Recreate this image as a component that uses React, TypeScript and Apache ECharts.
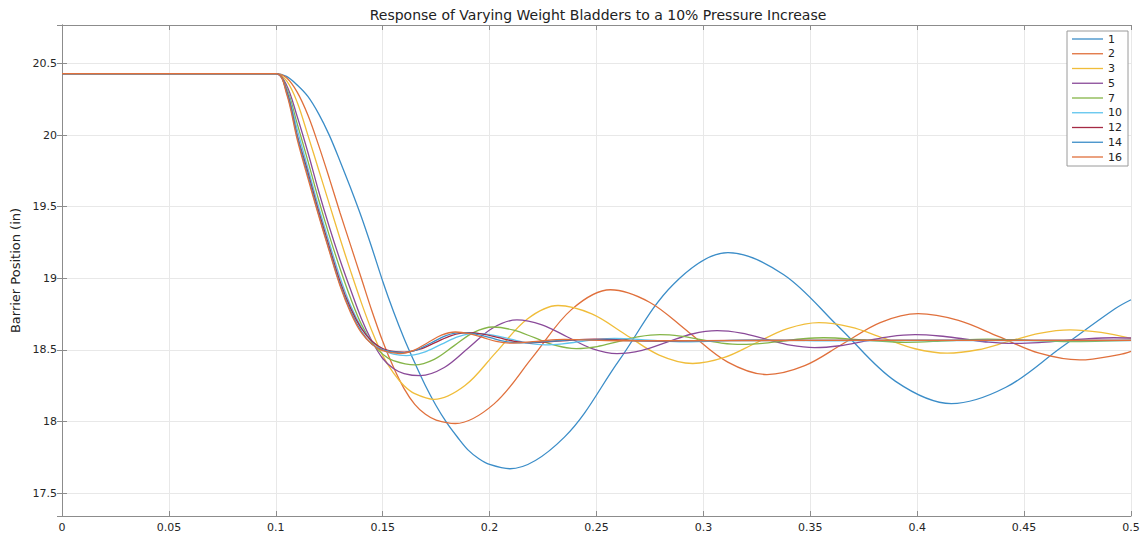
import React, { useEffect, useRef } from "react";
import * as echarts from "echarts";

const titleText = "Response of Varying Weight Bladders to a 10% Pressure Increase";
const yAxisName = "Barrier Position (in)";

const seriesNames = ["1", "2", "3", "5", "7", "10", "12", "14", "16"];
const seriesColors = [
  "#3b8dc8", "#e0703c", "#f0bd3a", "#8a4a99", "#85b548",
  "#5ec4ee", "#a52a44", "#3b8dc8", "#e0703c",
];

// [time (s), barrier position (in)]
const s1: [number, number][] = [
  [0, 20.43], [0.1, 20.43], [0.105, 20.41], [0.11, 20.35], [0.115, 20.27],
  [0.12, 20.15], [0.125, 20.0], [0.13, 19.82], [0.135, 19.63], [0.14, 19.43],
  [0.145, 19.21], [0.15, 18.98], [0.155, 18.77], [0.16, 18.58], [0.165, 18.41],
  [0.17, 18.25], [0.175, 18.11], [0.18, 17.99], [0.185, 17.89], [0.19, 17.8],
  [0.195, 17.74], [0.2, 17.7], [0.2095, 17.67], [0.235, 17.891], [0.2605, 18.425],
  [0.286, 18.959], [0.3115, 19.18], [0.3376, 19.025], [0.3638, 18.653], [0.3899, 18.28],
  [0.416, 18.125], [0.4415, 18.239], [0.467, 18.513], [0.4925, 18.787], [0.5, 18.85],
];
const s2: [number, number][] = [
  [0, 20.43], [0.1, 20.43], [0.105, 20.4], [0.11, 20.3], [0.115, 20.14],
  [0.12, 19.93], [0.125, 19.7], [0.13, 19.46], [0.135, 19.23], [0.14, 19.0],
  [0.145, 18.77], [0.15, 18.56], [0.155, 18.38], [0.16, 18.23], [0.165, 18.12],
  [0.17, 18.05], [0.175, 18.01], [0.184, 17.986], [0.2021, 18.123], [0.2203, 18.453],
  [0.2384, 18.783], [0.2565, 18.92], [0.2748, 18.833], [0.2931, 18.624], [0.3114, 18.415],
  [0.3297, 18.328], [0.3474, 18.39], [0.3651, 18.541], [0.3827, 18.691], [0.4004, 18.753],
  [0.4193, 18.706], [0.4382, 18.592], [0.4571, 18.477], [0.476, 18.43], [0.4945, 18.467],
  [0.5, 18.49],
];
const s3: [number, number][] = [
  [0, 20.43], [0.1, 20.43], [0.105, 20.38], [0.11, 20.23], [0.115, 20.0],
  [0.12, 19.76], [0.125, 19.52], [0.13, 19.28], [0.135, 19.05], [0.14, 18.83],
  [0.145, 18.63], [0.15, 18.46], [0.155, 18.34], [0.16, 18.25], [0.165, 18.195],
  [0.174, 18.155], [0.1885, 18.251], [0.203, 18.483], [0.2175, 18.714], [0.232, 18.81],
  [0.2478, 18.751], [0.2635, 18.608], [0.2793, 18.464], [0.295, 18.405], [0.3098, 18.447],
  [0.3245, 18.548], [0.3393, 18.648], [0.354, 18.69], [0.369, 18.659], [0.384, 18.584],
  [0.399, 18.508], [0.414, 18.477], [0.4284, 18.501], [0.4428, 18.559], [0.4571, 18.616],
  [0.4715, 18.64], [0.486, 18.622], [0.5, 18.58],
];
const s5: [number, number][] = [
  [0, 20.43], [0.1, 20.43], [0.105, 20.35], [0.11, 20.13], [0.115, 19.88],
  [0.12, 19.61], [0.125, 19.36], [0.13, 19.13], [0.135, 18.92], [0.14, 18.72],
  [0.145, 18.56], [0.15, 18.44], [0.155, 18.37], [0.16, 18.335], [0.1675, 18.32],
  [0.1788, 18.377], [0.1902, 18.515], [0.2015, 18.653], [0.2128, 18.71], [0.2245, 18.675],
  [0.2362, 18.592], [0.2479, 18.509], [0.2596, 18.474], [0.2713, 18.497], [0.283, 18.554],
  [0.2947, 18.611], [0.3064, 18.634], [0.3178, 18.617], [0.3292, 18.575], [0.3406, 18.533],
  [0.352, 18.516], [0.3638, 18.529], [0.3755, 18.561], [0.3873, 18.593], [0.399, 18.606],
  [0.4105, 18.597], [0.422, 18.576], [0.4335, 18.554], [0.445, 18.545], [0.4568, 18.551],
  [0.4685, 18.565], [0.4803, 18.579], [0.492, 18.585], [0.5, 18.583],
];
const s7: [number, number][] = [
  [0, 20.43], [0.1, 20.43], [0.105, 20.33], [0.11, 20.08], [0.115, 19.82],
  [0.12, 19.55], [0.125, 19.3], [0.13, 19.07], [0.135, 18.86], [0.14, 18.68],
  [0.145, 18.55], [0.15, 18.47], [0.155, 18.425], [0.165, 18.395], [0.1741, 18.434],
  [0.1833, 18.528], [0.1924, 18.621], [0.2015, 18.66], [0.2113, 18.638], [0.221, 18.585],
  [0.2308, 18.531], [0.2405, 18.509], [0.2503, 18.523], [0.2601, 18.558], [0.2699, 18.592],
  [0.2797, 18.606], [0.2893, 18.596], [0.2989, 18.572], [0.3084, 18.548], [0.318, 18.538],
  [0.3276, 18.545], [0.3372, 18.562], [0.3467, 18.578], [0.3563, 18.585], [0.3754, 18.569],
  [0.3945, 18.553], [0.414, 18.564], [0.433, 18.575], [0.452, 18.566], [0.471, 18.558],
  [0.5, 18.567],
];
const s10: [number, number][] = [
  [0, 20.43], [0.1, 20.43], [0.105, 20.32], [0.11, 20.04], [0.115, 19.77],
  [0.12, 19.5], [0.125, 19.25], [0.13, 19.01], [0.135, 18.81], [0.14, 18.66],
  [0.145, 18.56], [0.15, 18.5], [0.155, 18.47], [0.161, 18.46], [0.1691, 18.483],
  [0.1773, 18.538], [0.1854, 18.592], [0.1935, 18.615], [0.2016, 18.603], [0.2098, 18.575],
  [0.2179, 18.547], [0.226, 18.535], [0.2341, 18.542], [0.2423, 18.558], [0.2504, 18.573],
  [0.2585, 18.58], [0.2748, 18.568], [0.291, 18.556], [0.3235, 18.57], [0.36, 18.563],
  [0.4, 18.566], [0.45, 18.565], [0.5, 18.565],
];
const s12: [number, number][] = [
  [0, 20.43], [0.1, 20.43], [0.105, 20.31], [0.11, 20.0], [0.115, 19.74],
  [0.12, 19.47], [0.125, 19.22], [0.13, 18.98], [0.135, 18.79], [0.14, 18.65],
  [0.145, 18.56], [0.15, 18.51], [0.155, 18.49], [0.16, 18.485], [0.1674, 18.505],
  [0.1748, 18.553], [0.1821, 18.6], [0.1895, 18.62], [0.1969, 18.61], [0.2043, 18.585],
  [0.2116, 18.56], [0.219, 18.55], [0.234, 18.563], [0.249, 18.575], [0.278, 18.562],
  [0.32, 18.567], [0.4, 18.566], [0.5, 18.566],
];
const s14: [number, number][] = [
  [0, 20.43], [0.1, 20.43], [0.105, 20.3], [0.11, 19.99], [0.115, 19.72],
  [0.12, 19.45], [0.125, 19.2], [0.13, 18.96], [0.135, 18.77], [0.14, 18.63],
  [0.145, 18.54], [0.15, 18.5], [0.159, 18.48], [0.1659, 18.5], [0.1728, 18.55],
  [0.1796, 18.6], [0.1865, 18.62], [0.1934, 18.61], [0.2003, 18.585], [0.2071, 18.56],
  [0.214, 18.55], [0.228, 18.561], [0.2415, 18.572], [0.27, 18.564], [0.35, 18.566],
  [0.5, 18.566],
];
const s16: [number, number][] = [
  [0, 20.43], [0.1, 20.43], [0.105, 20.29], [0.11, 19.97], [0.115, 19.7],
  [0.12, 19.44], [0.125, 19.19], [0.13, 18.95], [0.135, 18.76], [0.14, 18.62],
  [0.145, 18.54], [0.15, 18.495], [0.158, 18.475], [0.1645, 18.497], [0.171, 18.55],
  [0.1775, 18.603], [0.184, 18.625], [0.1904, 18.614], [0.1968, 18.587], [0.2031, 18.559],
  [0.2095, 18.548], [0.222, 18.56], [0.235, 18.573], [0.26, 18.564], [0.35, 18.566],
  [0.5, 18.566],
];

const seriesData = [s1, s2, s3, s5, s7, s10, s12, s14, s16];

export default function App() {
  const ref = useRef<HTMLDivElement>(null);

  useEffect(() => {
    if (!ref.current) return;
    const chart = echarts.init(ref.current, null, { renderer: "svg" });
    const font = "DejaVu Sans";
    const axisColor = "#8c8c8c";
    const gridColor = "#e8e8e8";
    const labelColor = "#262626";

    const xBase = {
      type: "value" as const,
      min: 0,
      max: 0.5,
      interval: 0.05,
      axisLine: { show: true, lineStyle: { color: axisColor, width: 1 } },
      axisTick: { show: true, inside: true, length: 5, lineStyle: { color: axisColor } },
    };
    const yBase = {
      type: "value" as const,
      min: 17.34,
      max: 20.769,
      splitNumber: 7,
      axisLine: { show: true, lineStyle: { color: axisColor, width: 1 } },
      axisTick: { show: true, inside: true, length: 5, lineStyle: { color: axisColor } },
    };

    chart.setOption({
      animation: false,
      backgroundColor: "#ffffff",
      textStyle: { fontFamily: font },
      grid: { left: 62, right: 12, top: 25, bottom: 21, containLabel: false },
      graphic: [
        {
          type: "text",
          x: 598,
          y: 15,
          style: {
            text: titleText,
            fontFamily: font,
            fontSize: 14,
            fill: "#222222",
            textAlign: "center",
            textVerticalAlign: "middle",
          },
        },
      ],
      legend: {
        orient: "vertical",
        right: 15,
        top: 31,
        icon: "rect",
        itemWidth: 31,
        itemHeight: 1.3,
        itemGap: 2.75,
        padding: [2, 6, 3, 5],
        backgroundColor: "#ffffff",
        borderColor: "#9a9a9a",
        borderWidth: 1,
        borderRadius: 0,
        textStyle: { fontFamily: font, fontSize: 11, color: "#222222", lineHeight: 12 },
        data: seriesNames,
      },
      xAxis: [
        {
          ...xBase,
          position: "bottom",
          axisLabel: { show: true, fontSize: 11, color: labelColor, margin: 6, fontFamily: font },
          splitLine: { show: true, lineStyle: { color: gridColor, width: 1 } },
        },
        {
          ...xBase,
          position: "top",
          axisLabel: { show: false },
          splitLine: { show: false },
        },
      ],
      yAxis: [
        {
          ...yBase,
          position: "left",
          name: yAxisName,
          nameLocation: "middle",
          nameRotate: 90,
          nameGap: 34,
          nameTextStyle: { fontSize: 13, color: "#222222", fontFamily: font },
          axisLabel: {
            show: true,
            fontSize: 11,
            color: labelColor,
            margin: 5,
            fontFamily: font,
            showMinLabel: false,
            showMaxLabel: false,
          },
          splitLine: { show: true, lineStyle: { color: gridColor, width: 1 } },
        },
        {
          ...yBase,
          position: "right",
          axisLabel: { show: false },
          splitLine: { show: false },
        },
      ],
      series: seriesNames.map((name, i) => ({
        name,
        type: "line",
        xAxisIndex: 0,
        yAxisIndex: 0,
        data: seriesData[i],
        symbol: "none",
        smooth: 0.35,
        lineStyle: { width: 1.3, color: seriesColors[i] },
        itemStyle: { color: seriesColors[i] },
        emphasis: { disabled: true },
      })),
    });

    return () => chart.dispose();
  }, []);

  return (
    <div
      ref={ref}
      style={{ position: "fixed", left: 0, top: 0, width: 1143, height: 537, background: "#fff" }}
    />
  );
}
